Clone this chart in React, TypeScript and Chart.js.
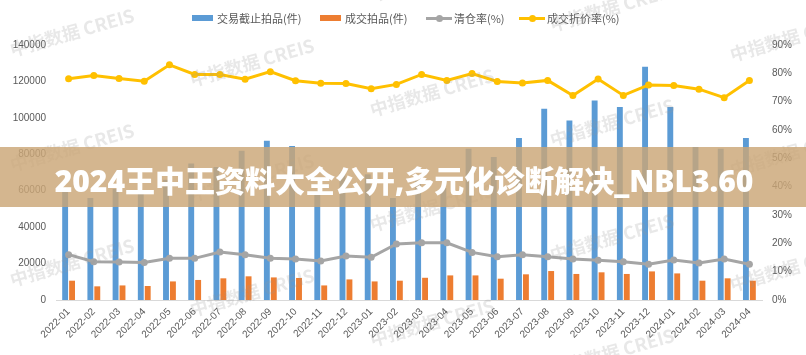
import React, { useEffect, useRef } from "react";
import { Chart, registerables } from "chart.js";

Chart.register(...registerables);

const months = [
  "2022-01", "2022-02", "2022-03", "2022-04", "2022-05", "2022-06", "2022-07",
  "2022-08", "2022-09", "2022-10", "2022-11", "2022-12", "2023-01", "2023-02",
  "2023-03", "2023-04", "2023-05", "2023-06", "2023-07", "2023-08", "2023-09",
  "2023-10", "2023-11", "2023-12", "2024-01", "2024-02", "2024-03", "2024-04",
];

const tradedLots = [
  60000, 56000, 61000, 60000, 66000, 75000, 73000, 82000, 87500, 84500, 59000, 70000,
  69000, 56000, 65500, 61500, 83000, 78500, 89000, 105000, 98500, 109500, 106000, 128000,
  106000, 84000, 83000, 89000,
];

const soldLots = [
  10600, 7500, 8000, 7700, 10200, 11000, 11900, 13000, 12400, 12100, 8000, 11300,
  10200, 10600, 12200, 13500, 13500, 11700, 14100, 15900, 14300, 15200, 14300, 15700,
  14600, 10600, 11900, 10600,
];

const clearanceRate = [
  16.0, 13.5, 13.4, 13.2, 14.7, 14.7, 16.9, 16.0, 14.7, 14.5, 13.8, 15.5,
  15.1, 19.8, 20.2, 20.2, 16.8, 15.3, 16.0, 15.3, 14.5, 14.0, 13.5, 12.6,
  14.1, 13.1, 14.5, 12.6,
];

const discountRate = [
  78.1, 79.2, 78.2, 77.2, 83.0, 79.6, 79.6, 77.9, 80.6, 77.4, 76.5, 76.4,
  74.6, 76.1, 79.6, 77.5, 79.9, 77.1, 76.6, 77.5, 72.2, 78.0, 72.2, 75.9,
  75.7, 74.4, 71.4, 77.5,
];

const seriesNames = ["交易截止拍品(件)", "成交拍品(件)", "清仓率(%)", "成交折价率(%)"];
const bannerText = "2024王中王资料大全公开,多元化诊断解决_NBL3.60";
const watermarkText = "中指数据  CREIS";

const BLUE = "#5B9BD5";
const ORANGE = "#ED7D31";
const GRAY = "#A5A5A5";
const YELLOW = "#FFC000";
const TEXT = "#595959";
const TICK_FONT = { family: "'Liberation Sans', 'Noto Sans CJK SC', sans-serif", size: 10 };

export default function App() {
  const ref = useRef<HTMLCanvasElement | null>(null);

  useEffect(() => {
    if (!ref.current) return;
    const chart = new Chart(ref.current, {
      type: "bar",
      data: {
        labels: months,
        datasets: [
          {
            type: "line",
            label: seriesNames[3],
            data: discountRate,
            yAxisID: "y1",
            borderColor: YELLOW,
            backgroundColor: YELLOW,
            borderWidth: 3,
            pointRadius: 3.5,
            pointBorderWidth: 0,
            tension: 0,
            order: 0,
          },
          {
            type: "line",
            label: seriesNames[2],
            data: clearanceRate,
            yAxisID: "y1",
            borderColor: GRAY,
            backgroundColor: GRAY,
            borderWidth: 3,
            pointRadius: 3.5,
            pointBorderWidth: 0,
            tension: 0,
            order: 1,
          },
          {
            type: "bar",
            label: seriesNames[0],
            data: tradedLots,
            yAxisID: "y",
            backgroundColor: BLUE,
            categoryPercentage: 0.55,
            barPercentage: 0.85,
            order: 2,
          },
          {
            type: "bar",
            label: seriesNames[1],
            data: soldLots,
            yAxisID: "y",
            backgroundColor: ORANGE,
            categoryPercentage: 0.55,
            barPercentage: 0.85,
            order: 2,
          },
        ],
      },
      options: {
        responsive: false,
        animation: false,
        devicePixelRatio: 1,
        layout: { padding: { top: 45, left: 0, right: 0, bottom: 0 } },
        plugins: {
          legend: { display: false },
          tooltip: { enabled: false },
          title: { display: false },
        },
        scales: {
          x: {
            grid: { display: false, drawTicks: false },
            border: { display: true, color: "#D9D9D9", width: 1 },
            ticks: {
              color: TEXT,
              font: TICK_FONT,
              minRotation: 45,
              maxRotation: 45,
              autoSkip: false,
              padding: 6,
            },
            afterFit: (s: any) => {
              s.height = 55;
            },
          },
          y: {
            position: "left",
            min: 0,
            max: 140000,
            grid: { display: false, drawTicks: false },
            border: { display: false },
            ticks: {
              stepSize: 20000,
              color: TEXT,
              font: TICK_FONT,
              padding: 10,
              callback: (v: any) => String(v),
            },
            afterFit: (s: any) => {
              s.width = 56;
            },
          },
          y1: {
            position: "right",
            min: 0,
            max: 90,
            grid: { display: false, drawTicks: false },
            border: { display: false },
            ticks: {
              stepSize: 10,
              color: TEXT,
              font: TICK_FONT,
              padding: 10,
              callback: (v: any) => `${v}%`,
            },
            afterFit: (s: any) => {
              s.width = 44;
            },
          },
        },
      },
    });
    return () => chart.destroy();
  }, []);

  const marks: { x: number; y: number }[] = [];
  for (let j = -1; j <= 2; j++) {
    for (let i = 0; i < 5; i++) {
      const x = 10 + i * 180;
      const y = 48 + i * 30 + j * 115;
      if (y > -40 && y < 380) marks.push({ x, y });
    }
  }

  const legendItem = (x: number, kind: "box" | "line", color: string, text: string) => (
    <div
      key={text}
      style={{
        position: "absolute",
        left: x,
        top: 10,
        height: 16,
        display: "flex",
        alignItems: "center",
        whiteSpace: "nowrap",
        font: "11px 'Noto Sans CJK SC', sans-serif",
        color: TEXT,
      }}
    >
      {kind === "box" ? (
        <span style={{ display: "inline-block", width: 21, height: 6, background: color, marginRight: 4 }} />
      ) : (
        <span style={{ position: "relative", display: "inline-block", width: 26, height: 8, marginRight: 2 }}>
          <span style={{ position: "absolute", left: 0, top: 3, width: 26, height: 3, background: color }} />
          <span style={{ position: "absolute", left: 9.5, top: 0.5, width: 7, height: 7, borderRadius: "50%", background: color }} />
        </span>
      )}
      <span>{text}</span>
    </div>
  );

  return (
    <div style={{ position: "fixed", left: 0, top: 0, width: 806, height: 355, background: "#fff", overflow: "hidden" }}>
      <canvas ref={ref} width={806} height={355} style={{ position: "absolute", left: 0, top: 0, width: 806, height: 355 }} />
      {legendItem(192, "box", BLUE, seriesNames[0])}
      {legendItem(320, "box", ORANGE, seriesNames[1])}
      {legendItem(426, "line", GRAY, seriesNames[2])}
      {legendItem(519, "line", YELLOW, seriesNames[3])}
      {marks.map((m, k) => (
        <div
          key={k}
          style={{
            position: "absolute",
            left: m.x,
            top: m.y - 12,
            transform: "rotate(-16deg)",
            transformOrigin: "0% 50%",
            font: "bold 18px 'Noto Sans CJK SC', sans-serif",
            color: "rgba(150,150,150,0.22)",
            whiteSpace: "nowrap",
            pointerEvents: "none",
          }}
        >
          {watermarkText}
        </div>
      ))}
      <div
        style={{
          position: "absolute",
          left: 0,
          top: 147,
          width: 806,
          height: 60,
          background: "rgba(203,166,118,0.82)",
          display: "flex",
          alignItems: "center",
          justifyContent: "center",
        }}
      >
        <span
          style={{
            font: "900 30px 'Open Sans', 'Noto Sans CJK SC', sans-serif",
            color: "#fff",
            whiteSpace: "nowrap",
            marginTop: 4,
            marginLeft: 2,
          }}
        >
          {bannerText}
        </span>
      </div>
    </div>
  );
}
